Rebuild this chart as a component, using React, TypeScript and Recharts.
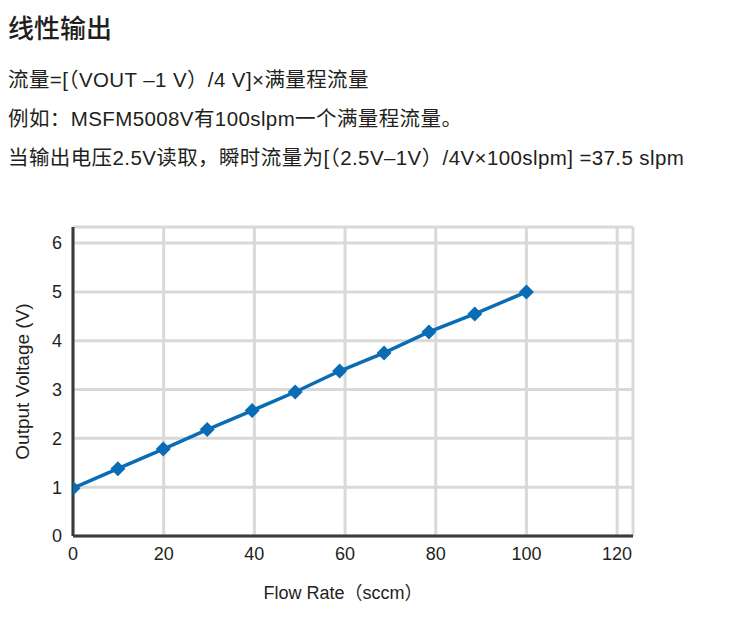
import React from "react";
import {
  LineChart,
  Line,
  XAxis,
  YAxis,
  CartesianGrid,
  Label,
} from "recharts";

// flow rate (sccm) and output voltage (V)
const flowRate = [0, 9.9, 19.9, 29.6, 39.5, 49, 58.8, 68.6, 78.5, 88.6, 100];
const voltage = [0.98, 1.38, 1.78, 2.18, 2.57, 2.95, 3.38, 3.75, 4.18, 4.55, 5.0];

const xTicks = [0, 20, 40, 60, 80, 100, 120];
const yTicks = [0, 1, 2, 3, 4, 5, 6];

const data = flowRate.map((x, i) => ({ x, v: voltage[i] }));

const BLUE = "#0a6cb5";
const INK = "#231f20";
const LATIN = '"Liberation Sans", Arial, "Noto Sans CJK SC", sans-serif';
const CJK = '"Noto Sans CJK SC", "Liberation Sans", sans-serif';

const Diamond = (props: any) => {
  const { cx, cy } = props;
  if (cx == null || cy == null) return null;
  const r = 7.5;
  return (
    <polygon
      points={`${cx},${cy - r} ${cx + r},${cy} ${cx},${cy + r} ${cx - r},${cy}`}
      fill={BLUE}
    />
  );
};

const textLine: React.CSSProperties = {
  position: "absolute",
  left: 8,
  fontFamily: LATIN,
  fontSize: 20.5,
  letterSpacing: 0.4,
  color: INK,
  whiteSpace: "nowrap",
  lineHeight: "24px",
};

export default function App() {
  return (
    <div
      style={{
        position: "absolute",
        left: 0,
        top: 0,
        width: 738,
        height: 628,
        background: "#fff",
        overflow: "hidden",
      }}
    >
      <div
        style={{
          ...textLine,
          top: 11,
          fontFamily: CJK,
          fontSize: 26,
          letterSpacing: 0,
          fontWeight: 500,
          lineHeight: "32px",
        }}
      >
        线性输出
      </div>
      <div style={{ ...textLine, top: 68 }}>流量=[（VOUT –1 V）/4 V]×满量程流量</div>
      <div style={{ ...textLine, top: 107 }}>例如：MSFM5008V有100slpm一个满量程流量。</div>
      <div style={{ ...textLine, top: 146 }}>
        当输出电压2.5V读取，瞬时流量为[（2.5V–1V）/4V×100slpm] =37.5 slpm
      </div>

      <div style={{ position: "absolute", left: 0, top: 200 }}>
        <LineChart
          width={738}
          height={428}
          data={data}
          margin={{ top: 27, right: 105, bottom: 62, left: 33 }}
        >
          <CartesianGrid stroke="#d9d9d9" strokeWidth={3} />
          <XAxis
            dataKey="x"
            type="number"
            domain={[0, 123.5]}
            ticks={xTicks}
            allowDataOverflow
            height={30}
            tickLine={false}
            tickSize={0}
            tickMargin={11}
            axisLine={{ stroke: "#3a3a3a", strokeWidth: 3 }}
            tick={{ fill: INK, fontSize: 18, fontFamily: LATIN }}
          >
            <Label
              content={(p: any) => {
                const vb = p.viewBox || {};
                return (
                  <text
                    x={vb.x + vb.width / 2 - 10}
                    y={vb.y + 63}
                    textAnchor="middle"
                    fill={INK}
                    fontSize={18}
                    fontFamily={LATIN}
                  >
                    Flow Rate（sccm）
                  </text>
                );
              }}
            />
          </XAxis>
          <YAxis
            type="number"
            domain={[0, 6.33]}
            ticks={yTicks}
            allowDataOverflow
            width={40}
            tickLine={false}
            tickSize={0}
            tickMargin={11}
            axisLine={{ stroke: "#3a3a3a", strokeWidth: 3 }}
            tick={{ fill: INK, fontSize: 18, fontFamily: LATIN }}
          >
            <Label
              content={(p: any) => {
                const vb = p.viewBox || {};
                const cx = 22;
                const cy = vb.y + vb.height / 2;
                return (
                  <text
                    x={cx}
                    y={cy}
                    transform={`rotate(-90 ${cx} ${cy})`}
                    textAnchor="middle"
                    dominantBaseline="central"
                    fill={INK}
                    fontSize={19}
                    fontFamily={LATIN}
                  >
                    Output Voltage (V)
                  </text>
                );
              }}
            />
          </YAxis>
          <Line
            type="linear"
            dataKey="v"
            stroke={BLUE}
            strokeWidth={3.5}
            dot={<Diamond />}
            activeDot={false}
            isAnimationActive={false}
          />
        </LineChart>
      </div>
    </div>
  );
}
